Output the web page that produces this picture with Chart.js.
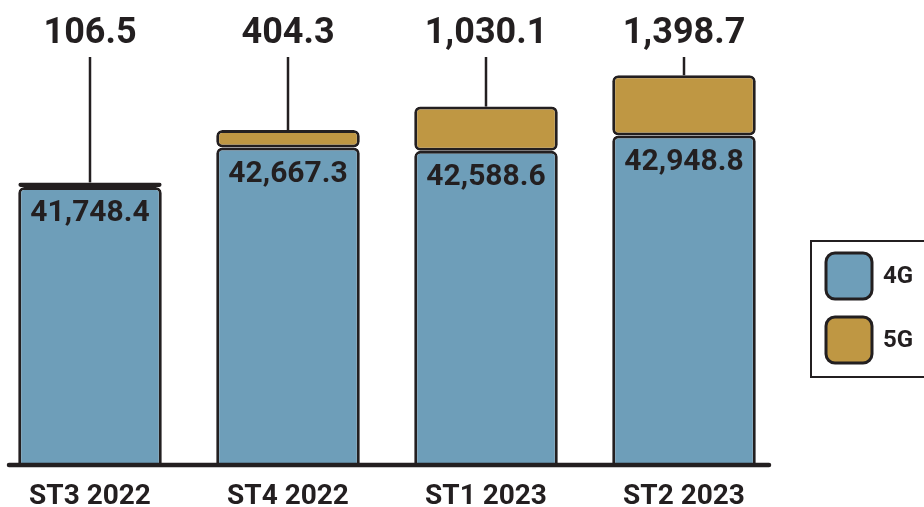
<!DOCTYPE html>
<html>
<head>
<meta charset="utf-8">
<script src="https://cdn.jsdelivr.net/npm/chart.js@4.4.0/dist/chart.umd.min.js"></script>
<style>
  html, body { margin: 0; padding: 0; background: #ffffff; overflow: hidden; }
  #wrap { width: 924px; height: 507px; position: relative; overflow: hidden; }
  #c { position: absolute; left: -9px; top: 0; }
</style>
</head>
<body>
<div id="wrap"><canvas id="c" width="933" height="507"></canvas></div>
<script>
const categories = ['ST3 2022', 'ST4 2022', 'ST1 2023', 'ST2 2023'];
const values4G = [41748.4, 42667.3, 42588.6, 42948.8];
const values5G = [106.5, 404.3, 1030.1, 1398.7];
const seriesNames = ['4G', '5G'];

const FONT = "Roboto, 'DejaVu Sans Condensed', sans-serif";
const DARK = '#231f20';
const BLUE = '#6e9eb9';
const GOLD = '#bf9743';
const SHIFT = 9; // canvas is shifted left by this many px

const fmt = v => v.toLocaleString('en-US', { minimumFractionDigits: 1, maximumFractionDigits: 1 });

const labelPlugin = {
  id: 'labels',
  afterDatasetsDraw(chart) {
    const ctx = chart.ctx;
    const m0 = chart.getDatasetMeta(0);
    const m1 = chart.getDatasetMeta(1);
    const area = chart.chartArea;
    ctx.save();
    // baseline
    ctx.strokeStyle = DARK;
    ctx.lineWidth = 4.5;
    ctx.lineCap = 'round';
    ctx.beginPath();
    ctx.moveTo(9 + SHIFT, area.bottom);
    ctx.lineTo(769 + SHIFT, area.bottom);
    ctx.stroke();

    ctx.fillStyle = DARK;
    ctx.textAlign = 'center';
    ctx.textBaseline = 'middle';
    m0.data.forEach((bar, i) => {
      ctx.font = "bold 30px " + FONT;
      ctx.fillText(fmt(values4G[i]), bar.x, bar.y + 27);
    });
    m1.data.forEach((bar, i) => {
      ctx.strokeStyle = DARK;
      ctx.lineWidth = 2.5;
      ctx.lineCap = 'butt';
      ctx.beginPath();
      ctx.moveTo(bar.x, 57);
      ctx.lineTo(bar.x, bar.y);
      ctx.stroke();
      ctx.font = "bold 36px " + FONT;
      ctx.fillText(fmt(values5G[i]), bar.x, 34);
    });

    // legend
    const lx = 811 + SHIFT;
    ctx.lineWidth = 2;
    ctx.strokeStyle = DARK;
    ctx.strokeRect(lx, 241, 140, 136);
    const colors = [BLUE, GOLD];
    const ys = [253, 317];
    seriesNames.forEach((name, i) => {
      ctx.beginPath();
      ctx.roundRect(lx + 15, ys[i], 46, 46, 9);
      ctx.fillStyle = colors[i];
      ctx.fill();
      ctx.lineWidth = 3;
      ctx.strokeStyle = DARK;
      ctx.stroke();
      ctx.fillStyle = DARK;
      ctx.font = "bold 24px " + FONT;
      ctx.textAlign = 'left';
      ctx.fillText(name, lx + 72, ys[i] + 24);
    });
    ctx.restore();
  }
};

const radius = { topLeft: 6, topRight: 6, bottomLeft: 6, bottomRight: 6 };

new Chart(document.getElementById('c'), {
  type: 'bar',
  data: {
    labels: categories,
    datasets: [
      { label: seriesNames[0], data: values4G, backgroundColor: BLUE, borderColor: DARK, borderWidth: 3, borderRadius: radius, borderSkipped: false },
      { label: seriesNames[1], data: values5G, backgroundColor: GOLD, borderColor: DARK, borderWidth: 3, borderRadius: radius, borderSkipped: false }
    ]
  },
  options: {
    responsive: false,
    animation: false,
    devicePixelRatio: 1,
    layout: { padding: { top: 60, left: 0, right: 141, bottom: 0 } },
    datasets: { bar: { categoryPercentage: 1.0, barPercentage: 0.725 } },
    plugins: { legend: { display: false }, tooltip: { enabled: false } },
    scales: {
      x: {
        stacked: true,
        grid: { display: false, drawTicks: false },
        border: { display: false },
        afterFit: s => { s.height = 42; },
        ticks: { color: DARK, font: { family: FONT, size: 28, weight: 'bold', lineHeight: 1 }, padding: 18, maxRotation: 0 }
      },
      y: {
        stacked: true,
        display: false,
        min: 35283,
        max: 44702
      }
    }
  },
  plugins: [labelPlugin]
});
</script>
</body>
</html>
